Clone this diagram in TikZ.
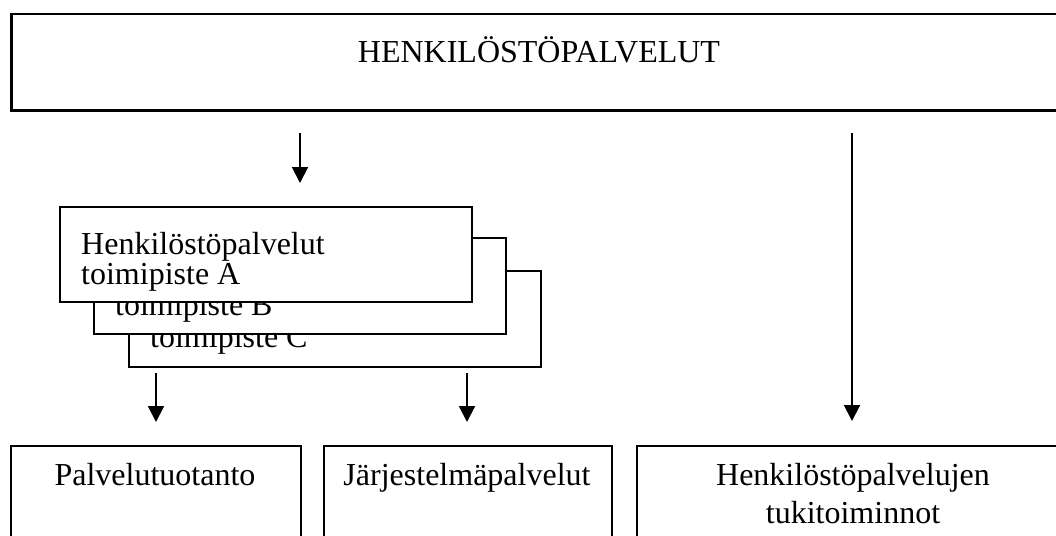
\documentclass[tikz,border=0pt]{standalone}
\usepackage{fontspec}
\setmainfont{Liberation Serif}
\usetikzlibrary{arrows.meta}

\begin{document}
\begin{tikzpicture}[x=1pt,y=-1pt,
  frame/.style={draw=black, line width=2pt, fill=white, inner sep=0pt},
  txt/.style={inner sep=0pt, anchor=base, font=\fontsize{32}{38}\selectfont},
  ltxt/.style={txt, anchor=base west},
  flow/.style={line width=2pt, -{Triangle[width=16pt,length=16pt]}}]
  \useasboundingbox (0,0) rectangle (1056,535);
  \clip (0,0) rectangle (1056,535);

  % top level unit
  \node[frame, line width=2.5pt, anchor=north west, minimum width=1070pt, minimum height=96pt] (top) at (10,13) {};
  \node[txt] (toplbl) at (539,63) {HENKILÖSTÖPALVELUT};

  % stacked local offices, back to front
  \node[frame, anchor=north west, minimum width=412pt, minimum height=96pt] (offC) at (128,270) {};
  \node[ltxt] (offClbl) at (150,347) {toimipiste C};
  \node[frame, anchor=north west, minimum width=412pt, minimum height=96pt] (offB) at (93,237) {};
  \node[ltxt] (offBlbl) at (115,315) {toimipiste B};
  \node[frame, anchor=north west, minimum width=412pt, minimum height=95pt] (offA) at (59,206) {};
  \node[ltxt] (offAlbl1) at (81,254) {Henkilöstöpalvelut};
  \node[ltxt] (offAlbl2) at (81,284) {toimipiste A};

  % bottom row
  \node[frame, anchor=north west, minimum width=290pt, minimum height=110pt] (prod) at (10,445) {};
  \node[txt] (prodlbl) at (155,485) {Palvelutuotanto};
  \node[frame, anchor=north west, minimum width=288pt, minimum height=110pt] (sys) at (323,445) {};
  \node[txt] (syslbl) at (467,485) {Järjestelmäpalvelut};
  \node[frame, anchor=north west, minimum width=440pt, minimum height=110pt] (sup) at (636,445) {};
  \node[txt] (suplbl1) at (853,485) {Henkilöstöpalvelujen};
  \node[txt] (suplbl2) at (853,523) {tukitoiminnot};

  % free-standing arrows
  \coordinate (a1s) at (300,133); \coordinate (a1e) at (300,183);
  \coordinate (a2s) at (156,373); \coordinate (a2e) at (156,422);
  \coordinate (a3s) at (467,373); \coordinate (a3e) at (467,422);
  \coordinate (a4s) at (852,133); \coordinate (a4e) at (852,421);
  \draw[flow] (a1s) -- (a1e);
  \draw[flow] (a2s) -- (a2e);
  \draw[flow] (a3s) -- (a3e);
  \draw[flow] (a4s) -- (a4e);
\end{tikzpicture}
\end{document}
